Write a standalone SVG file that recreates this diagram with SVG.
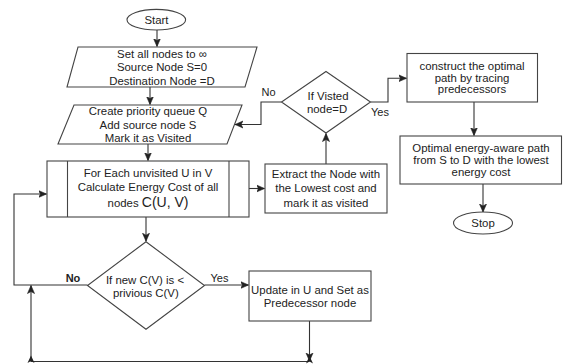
<svg xmlns="http://www.w3.org/2000/svg" width="563" height="364" viewBox="0 0 563 364">
<defs>
<marker id="arr" markerUnits="userSpaceOnUse" markerWidth="10" markerHeight="10" viewBox="0 0 10 10" refX="8" refY="5" orient="auto">
<path d="M0,1.5 L8,5 L0,8.5 L2,5 Z" fill="#222" stroke="#222" stroke-width="0.6"/>
</marker>
</defs>
<style>
.shape{fill:#fff;stroke:#444;stroke-width:1.1}
.edge{fill:none;stroke:#333;stroke-width:1.1}
text{font-family:"Liberation Sans",Arial,sans-serif;font-size:11.4px;fill:#222;text-anchor:middle}
.lbl{font-size:11px}
.bold{font-weight:bold}
</style>
<rect width="563" height="364" fill="#fff"/>

<g id="connectors">
<path class="edge" d="M157,30 V46.5" marker-end="url(#arr)"/>
<path class="edge" d="M150,87 V104.5" marker-end="url(#arr)"/>
<path class="edge" d="M148,144 V160.5" marker-end="url(#arr)"/>
<path class="edge" d="M249,188.5 H264.5" marker-end="url(#arr)"/>
<path class="edge" d="M326,164 V133.5" marker-end="url(#arr)"/>
<path class="edge" d="M281.5,102 H261 V124.5 H235" marker-end="url(#arr)"/>
<path class="edge" d="M370.5,102 H388 V78.3 H406.5" marker-end="url(#arr)"/>
<path class="edge" d="M474,102 V135.5" marker-end="url(#arr)"/>
<path class="edge" d="M483,184 V212" marker-end="url(#arr)"/>
<path class="edge" d="M146,217 V241.2" marker-end="url(#arr)"/>
<path class="edge" d="M87.5,285 H14 V194 H46.5" marker-end="url(#arr)"/>
<path class="edge" d="M204.5,285 H248.5" marker-end="url(#arr)"/>
<path class="edge" d="M309.5,321 V361" marker-end="url(#arr)"/>
<path class="edge" d="M309.5,361.5 H31 V285.5" marker-end="url(#arr)"/>
<path d="M31,355.5 L27.5,363 L31,361 L34.5,363 Z" fill="#222"/>
<path d="M309.5,356 L306,363.5 L309.5,361.5 L313,363.5 Z" fill="#222"/>
<text class="lbl" x="268.5" y="95.5">No</text>
<text class="lbl" x="380" y="115.5">Yes</text>
<text class="lbl bold" x="73" y="281.5">No</text>
<text class="lbl" x="219.5" y="281.5">Yes</text>
</g>

<g id="start">
<ellipse class="shape" cx="156.3" cy="19.7" rx="29.3" ry="10.3"/>
<text x="156.5" y="23.8">Start</text>
</g>

<g id="init">
<polygon class="shape" points="78,47 257,47 245,87 67,87"/>
<text x="162" y="57.6">Set all nodes to ∞</text>
<text x="162" y="71.3">Source Node S=0</text>
<text x="162" y="85">Destination Node =D</text>
</g>

<g id="queue">
<polygon class="shape" points="74,105 242,105 227,144 58,144"/>
<text x="148" y="115">Create priority queue Q</text>
<text x="148" y="128.7">Add source node S</text>
<text x="148" y="142.3">Mark it as Visited</text>
</g>

<g id="foreach">
<rect class="shape" x="47" y="161" width="202" height="56"/>
<line class="shape" x1="67.5" y1="161" x2="67.5" y2="217"/>
<line class="shape" x1="229" y1="161" x2="229" y2="217"/>
<text x="148" y="177.3">For Each unvisited U in V</text>
<text x="148" y="191">Calculate Energy Cost of all</text>
<text x="148" y="206.5">nodes <tspan font-size="14px">C(U, V)</tspan></text>
</g>

<g id="extract">
<rect class="shape" x="265" y="164" width="122" height="49"/>
<text x="326" y="178.4">Extract the Node with</text>
<text x="326" y="192.4">the Lowest cost and</text>
<text x="326" y="206.6">mark it as visited</text>
</g>

<g id="visited">
<polygon class="shape" points="326,71.5 370.5,102 326,133 281.5,102"/>
<text x="328" y="100">If Visted</text>
<text x="327" y="113.3">node=D</text>
</g>

<g id="construct">
<rect class="shape" x="407" y="53.5" width="130.5" height="48.5"/>
<text x="472" y="70" font-size="11.2px">construct the optimal</text>
<text x="472" y="81.7" font-size="11.2px">path by tracing</text>
<text x="472" y="93.3" font-size="11.2px">predecessors</text>
</g>

<g id="optimal">
<rect class="shape" x="400" y="136" width="161.5" height="48"/>
<text x="481" y="152">Optimal energy-aware path</text>
<text x="481" y="164">from S to D with the lowest</text>
<text x="481" y="176">energy cost</text>
</g>

<g id="stop">
<ellipse class="shape" cx="483" cy="223" rx="29.5" ry="11"/>
<text x="483" y="227">Stop</text>
</g>

<g id="compare">
<polygon class="shape" points="146,241.7 204.5,285.5 146,329.3 87.5,285.5"/>
<text x="145" y="284">If new C(V) is &lt;</text>
<text x="145.8" y="296.7">privious C(V)</text>
</g>

<g id="update">
<rect class="shape" x="249" y="271" width="122" height="50"/>
<text x="310" y="294">Update in U and Set as</text>
<text x="310" y="307.3">Predecessor node</text>
</g>
</svg>
